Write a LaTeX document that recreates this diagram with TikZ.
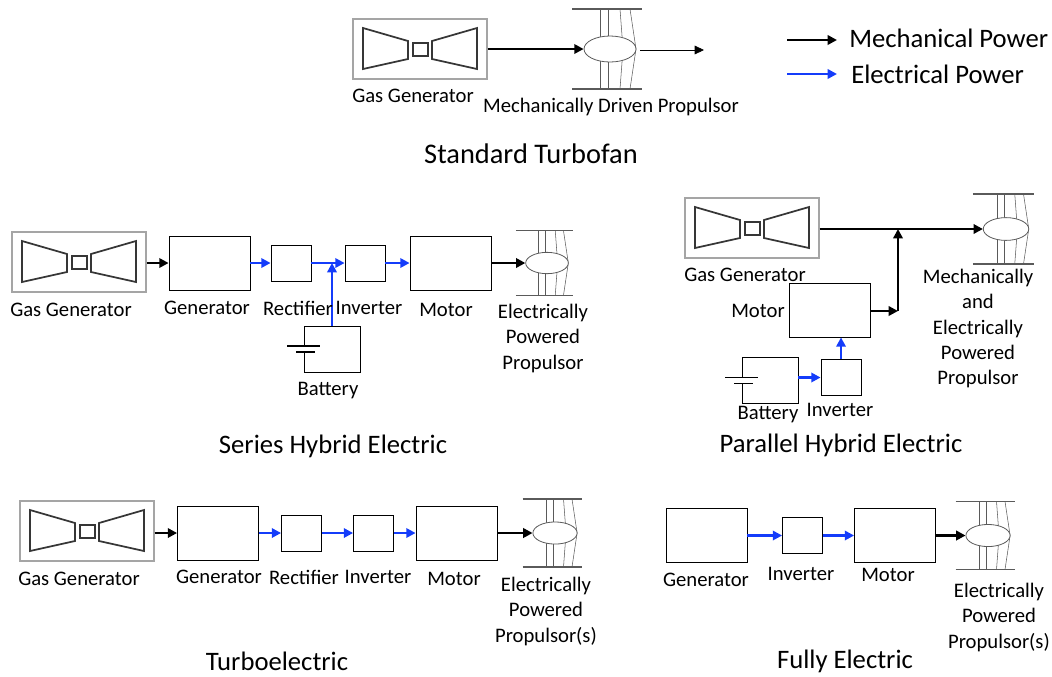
\documentclass[tikz,border=0pt]{standalone}
\usepackage{fontspec}
\setmainfont{Carlito}
\usetikzlibrary{arrows.meta,shapes.geometric}
\definecolor{elecblue}{RGB}{20,60,250}
\definecolor{gasgray}{RGB}{165,165,165}
\definecolor{fanline}{RGB}{90,90,90}
\tikzset{
    lbl/.style={align=center,inner sep=0pt,font=\fontsize{15.5}{19}\selectfont},
    title/.style={inner sep=0pt,font=\fontsize{20}{24}\selectfont},
    legendlbl/.style={inner sep=0pt,anchor=west,font=\fontsize{20}{24}\selectfont},
    bigbox/.style={draw,line width=0.6pt,minimum width=60.75pt,minimum height=40.5pt,inner sep=0pt},
    smallbox/.style={draw,line width=0.6pt,minimum width=30pt,minimum height=27pt,inner sep=0pt},
    mech/.style={line width=2.2pt,-{Triangle[length=7pt,width=7pt]}},
    elec/.style={elecblue,line width=2.2pt,-{Triangle[length=7pt,width=7pt]}},
    thinarrow/.style={line width=0.5pt,-{Triangle[length=7pt,width=6.5pt]}},
    gasgen/.pic={
        \node[draw=gasgray,line width=1.3pt,minimum width=100pt,minimum height=45.5pt,inner sep=0pt] (-box) {};
        \draw[line width=1.3pt,fanline!60!black] (-57,-21) -- (-12,-8) -- (-12,10) -- (-57,20) -- cycle;
        \draw[line width=1.3pt,fanline!60!black] (57,-21) -- (12,-8) -- (12,10) -- (57,20) -- cycle;
        \draw[line width=1.3pt,fanline!60!black] (-7,-6) rectangle (8,7);
    },
    propulsor/.pic={
        \draw[line width=0.9pt,fanline] (-38,-40) -- (32,-40) (-38,40) -- (32,40);
        \draw[line width=0.5pt,fanline] (-10,-40) -- (-10,40) (-2,-40) -- (-2,40);
        \draw[line width=0.4pt,fanline] (10,-40) -- (13,0) -- (10,40) (20,-40) -- (26,0) -- (20,40);
        \node[draw=fanline,fill=white,line width=0.6pt,ellipse,minimum width=39pt,minimum height=19.5pt,inner sep=0pt,transform shape] (-hub) {};
    },
    battery/.pic={
        \node[draw,line width=0.6pt,minimum width=42pt,minimum height=34.5pt,inner sep=0pt] (-box) {};
        \draw[white,line width=1.5pt] (-28,-3) -- (-28,3);
        \draw[line width=0.8pt] (-45,-3) -- (-12,-3);
        \draw[line width=0.8pt] (-36,3) -- (-17,3);
    }
}
\begin{document}
\begin{tikzpicture}[x=0.75pt,y=-0.75pt]
    \useasboundingbox (0,0) rectangle (1052,676);
    % legend
    \coordinate (legA) at (787,40);
    \coordinate (legB) at (837,40);
    \coordinate (legC) at (787,74);
    \coordinate (legD) at (837,74);
    \draw [mech] (legA) -- (legB);
    \draw [elec] (legC) -- (legD);
    \node[legendlbl] (legmech) at (849,38) {Mechanical Power};
    \node[legendlbl] (legelec) at (851,74) {Electrical Power};

    % standard turbofan
    \pic (ggA) at (420,49) {gasgen};
    \pic (fanA) at (610,49) {propulsor};
    \coordinate (outA) at (704,50);
    \draw [mech] (ggA-box.east) -- (fanA-hub.west);
    \draw [thinarrow] (fanA-hub.east |- outA) ++(4,0) -- (outA);
    \node[lbl] (ggAlbl) at (413,96) {Gas Generator};
    \node[lbl] (fanAlbl) at (611,107) {Mechanically Driven Propulsor};
    \node[title,font=\fontsize{21.3}{25}\selectfont] (titleA) at (531,154) {Standard Turbofan};

    % series hybrid
    \pic (ggB) at (79,262) {gasgen};
    \node[bigbox] (genB) at (209.5,263) {};
    \node[smallbox] (rectB) at (291,263) {};
    \node[smallbox] (invB) at (365,263) {};
    \node[bigbox] (motB) at (450.5,263) {};
    \pic[scale=0.82,transform shape] (fanB) at (547,263) {propulsor};
    \pic (batB) at (332,349) {battery};
    \draw [mech] (ggB-box.east |- genB.west) -- (genB.west);
    \draw [elec] (genB.east) -- (rectB.west);
    \draw [elec] (rectB.east) -- (invB.west);
    \draw [elec] (invB.east) -- (motB.west);
    \draw [mech] (motB.east) -- (fanB-hub.west);
    \draw [elec] (batB-box.north) -- (batB-box.north |- rectB.east);
    \node[lbl] (ggBlbl) at (71,310) {Gas Generator};
    \node[lbl] (genBlbl) at (207,308) {Generator};
    \node[lbl] (rectBlbl) at (298,308) {Rectifier};
    \node[lbl] (invBlbl) at (369,308) {Inverter};
    \node[lbl] (motBlbl) at (446,310) {Motor};
    \node[lbl,anchor=north] (fanBlbl) at (543,304) {Electrically\\Powered\\Propulsor};
    \node[lbl] (batBlbl) at (328,391) {Battery};
    \node[title] (titleB) at (333,446) {Series Hybrid Electric};

    % parallel hybrid
    \pic (ggC) at (752,228) {gasgen};
    \pic[scale=0.875,transform shape] (fanC) at (1006,229) {propulsor};
    \node[bigbox] (motC) at (829.5,310) {};
    \node[smallbox] (invC) at (841,377.5) {};
    \pic (batC) at (770,380.5) {battery};
    \coordinate (joinC) at (898,311);
    \draw [mech] (ggC-box.east |- fanC-hub.west) -- (fanC-hub.west);
    \draw [mech] (joinC) -- (joinC |- fanC-hub.west);
    \draw [mech] (motC.east |- joinC) -- (joinC);
    \draw [elec] (batC-box.east |- invC.west) -- (invC.west);
    \draw [elec] (invC.north) -- (invC.north |- motC.south);
    \node[lbl] (ggClbl) at (745,275) {Gas Generator};
    \node[lbl] (motClbl) at (758,311) {Motor};
    \node[lbl] (batClbl) at (768,415) {Battery};
    \node[lbl] (invClbl) at (840,410) {Inverter};
    \node[lbl,anchor=north] (fanClbl) at (978,269) {Mechanically\\and\\Electrically\\Powered\\Propulsor};
    \node[title] (titleC) at (841,445) {Parallel Hybrid Electric};

    % turboelectric
    \pic (ggD) at (87,531) {gasgen};
    \node[bigbox] (genD) at (218,533) {};
    \node[smallbox] (rectD) at (301.5,533) {};
    \node[smallbox] (invD) at (373.5,533) {};
    \node[bigbox] (motD) at (456.5,533) {};
    \pic[scale=0.85,transform shape] (fanD) at (555,533) {propulsor};
    \draw [mech] (ggD-box.east |- genD.west) -- (genD.west);
    \draw [elec] (genD.east) -- (rectD.west);
    \draw [elec] (rectD.east) -- (invD.west);
    \draw [elec] (invD.east) -- (motD.west);
    \draw [mech] (motD.east) -- (fanD-hub.west);
    \node[lbl] (ggDlbl) at (79,579) {Gas Generator};
    \node[lbl] (genDlbl) at (219,577) {Generator};
    \node[lbl] (rectDlbl) at (304,577) {Rectifier};
    \node[lbl] (invDlbl) at (378,577) {Inverter};
    \node[lbl] (motDlbl) at (454,579) {Motor};
    \node[lbl,anchor=north] (fanDlbl) at (546,577) {Electrically\\Powered\\Propulsor(s)};
    \node[title] (titleD) at (277,661) {Turboelectric};

    % fully electric
    \node[bigbox] (genE) at (706.5,535.5) {};
    \node[smallbox] (invE) at (802.5,535.5) {};
    \node[bigbox] (motE) at (895,535.5) {};
    \pic[scale=0.85,transform shape] (fanE) at (988,535.5) {propulsor};
    \draw [elec] (genE.east) -- (invE.west);
    \draw [elec] (invE.east) -- (motE.west);
    \draw [mech] (motE.east) -- (fanE-hub.west);
    \node[lbl] (genElbl) at (706,580) {Generator};
    \node[lbl] (invElbl) at (801,574) {Inverter};
    \node[lbl] (motElbl) at (888,575) {Motor};
    \node[lbl,anchor=north] (fanElbl) at (999,583) {Electrically\\Powered\\Propulsor(s)};
    \node[title] (titleE) at (845,661) {Fully Electric};
\end{tikzpicture}
\end{document}
